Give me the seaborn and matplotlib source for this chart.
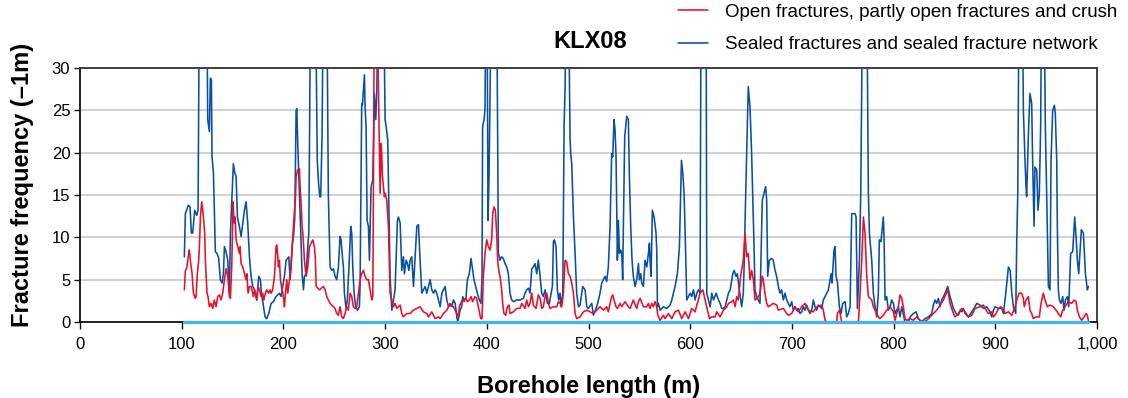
import matplotlib
matplotlib.use("Agg")
import matplotlib.pyplot as plt
import matplotlib.ticker as mticker
import seaborn as sns
import pandas as pd

# ---------------- data (borehole length m, fracture frequency 1/m) ----------------
sealed_points = [
    (102.6, 7.7), (103.6, 12.8), (106.6, 13.8), (108.2, 13.6), (109.5, 10.5), (110.8, 10.5), (112.8, 13.2),
    (114.8, 12.6), (116.1, 13.2), (117.4, 40), (121.0, 45), (124.6, 40), (125.6, 23.9), (127.2, 22.5),
    (128.2, 28.8), (129.2, 28.6), (129.8, 19.5), (131.2, 17.6), (133.1, 8.3), (134.8, 8.1), (136.4, 7.5),
    (138.0, 5.0), (139.7, 4.6), (141.0, 5.7), (142.0, 8.9), (143.6, 8.3), (145.3, 7.3), (146.9, 3.4),
    (147.9, 10.5), (150.8, 18.7), (152.2, 17.6), (153.5, 17.2), (154.8, 12.4), (156.7, 11.3), (158.4, 10.1),
    (161.7, 13.2), (163.3, 14.2), (164.9, 11.7), (166.6, 7.7), (168.2, 5.4), (169.9, 4.2), (171.5, 3.8),
    (173.8, 2.6), (175.8, 5.4), (177.4, 5.0), (178.4, 3.4), (180.4, 1.8), (182.0, 0.6), (183.6, 0.4),
    (185.6, 1.0), (187.9, 2.2), (190.2, 2.4), (192.8, 3.0), (196.1, 3.4), (197.7, 3.0), (201.0, 5.4),
    (202.7, 7.3), (205.3, 7.7), (206.6, 5.0), (208.6, 8.9), (210.2, 10.5), (211.2, 12.4), (212.5, 25.0),
    (213.2, 25.2), (214.1, 21.1), (215.8, 15.2), (217.4, 9.3), (218.4, 5.7), (219.7, 3.8), (220.7, 5.4),
    (222.3, 5.7), (224.0, 8.9), (225.0, 10.5), (225.6, 20.7), (226.8, 40), (231.5, 40), (233.3, 19.1),
    (234.5, 16.5), (235.8, 14.8), (236.7, 14.8), (238.0, 22.0), (239.3, 40), (242.6, 40), (244.2, 15.0),
    (245.9, 6.5), (247.5, 6.1), (249.2, 6.3), (250.8, 5.4), (252.4, 5.0), (254.1, 6.5), (255.7, 10.1),
    (256.7, 9.7), (258.3, 7.3), (259.0, 6.5), (260.0, 3.4), (261.6, 1.6), (262.9, 2.6), (264.6, 6.9),
    (266.2, 11.3), (267.2, 10.5), (268.2, 6.5), (269.5, 3.4), (271.1, 1.8), (272.8, 1.4), (274.7, 1.8),
    (275.4, 4.2), (277.0, 25.8), (277.7, 25.6), (279.7, 29.2), (280.3, 25.4), (281.3, 23.1), (282.3, 12.0),
    (283.6, 11.3), (284.6, 7.3), (286.2, 16.0), (287.9, 16.8), (289.5, 27.0), (290.8, 23.9), (291.8, 27.0),
    (293.4, 40), (298.4, 40), (300.0, 23.9), (301.0, 23.1), (302.6, 21.5), (303.6, 14.4), (304.9, 5.4),
    (306.6, 1.4), (308.2, 2.6), (309.8, 3.8), (312.1, 12.0), (313.1, 12.4), (314.8, 11.7), (316.4, 6.1),
    (318.0, 7.7), (319.0, 5.7), (320.7, 7.3), (322.0, 6.9), (323.3, 6.1), (324.6, 7.3), (326.2, 7.7),
    (327.9, 4.2), (329.5, 7.7), (331.2, 11.3), (332.8, 11.5), (334.4, 7.3), (336.1, 3.4), (337.7, 3.8),
    (339.4, 4.2), (341.0, 3.4), (342.6, 4.2), (344.3, 5.0), (345.9, 3.8), (347.6, 3.4), (349.2, 3.8),
    (350.8, 3.4), (352.5, 2.6), (354.1, 1.8), (355.8, 3.4), (357.4, 3.8), (359.0, 4.2), (360.7, 2.6),
    (362.3, 1.8), (364.0, 2.0), (365.6, 1.8), (367.2, 2.6), (368.9, 2.2), (370.5, 0.6), (371.5, 0.0),
    (373.8, 1.4), (375.3, 1.8), (376.3, 3.0), (377.6, 2.6), (379.5, 2.8), (380.9, 5.0), (382.8, 5.7),
    (384.5, 7.5), (386.1, 6.1), (387.4, 5.0), (389.1, 4.2), (390.7, 3.4), (392.7, 2.6), (394.3, 2.2),
    (395.3, 5.4), (395.9, 23.1), (397.3, 23.9), (398.2, 25.0), (399.2, 40), (400.2, 40), (401.2, 12.0),
    (402.2, 17.2), (403.2, 27.0), (404.5, 40), (409.7, 40), (411.4, 8.1), (413.0, 7.3), (414.6, 7.7),
    (416.3, 7.5), (417.9, 6.9), (419.6, 6.5), (421.2, 5.7), (422.8, 3.4), (424.5, 2.6), (426.1, 2.4),
    (429.4, 2.6), (432.7, 2.6), (436.0, 2.8), (437.6, 3.4), (439.2, 3.8), (440.9, 4.0), (442.5, 3.4),
    (444.2, 6.3), (445.8, 6.5), (447.4, 6.9), (449.1, 5.7), (450.7, 7.3), (452.4, 5.4), (454.0, 3.4),
    (455.6, 3.0), (457.3, 3.8), (459.6, 2.2), (461.5, 2.2), (463.2, 3.4), (464.5, 4.2), (465.5, 9.5),
    (466.5, 9.7), (468.1, 8.9), (469.4, 3.8), (470.7, 2.6), (472.0, 3.4), (473.0, 1.8), (474.7, 3.4),
    (476.0, 23.1), (477.0, 27.8), (478.0, 40), (480.2, 40), (481.9, 21.5), (482.5, 19.9), (483.5, 18.7),
    (485.2, 12.4), (486.8, 8.1), (488.4, 3.4), (490.1, 1.8), (491.7, 2.0), (494.3, 4.2), (496.6, 3.8),
    (498.3, 1.8), (499.9, 1.6), (503.2, 2.2), (504.8, 0.8), (508.1, 1.8), (509.8, 2.6), (511.3, 3.4),
    (513.0, 4.6), (514.6, 5.0), (516.3, 5.4), (517.9, 4.8), (519.5, 6.5), (521.2, 11.3), (522.8, 19.9),
    (523.8, 19.5), (525.1, 23.9), (526.1, 22.7), (527.1, 19.5), (528.4, 7.3), (529.4, 12.0), (530.4, 8.1),
    (531.7, 8.5), (532.7, 8.1), (533.6, 5.0), (534.3, 11.3), (535.6, 21.9), (537.6, 24.3), (539.2, 23.9),
    (540.2, 17.2), (541.5, 11.3), (542.8, 7.3), (544.1, 5.4), (545.8, 4.2), (547.4, 5.0), (549.1, 6.9),
    (550.0, 5.0), (551.4, 5.7), (552.3, 4.6), (554.0, 4.2), (555.6, 7.3), (557.3, 6.5), (558.9, 8.1),
    (559.9, 9.3), (560.5, 7.3), (561.5, 5.4), (562.8, 13.2), (564.5, 12.4), (566.4, 10.5), (567.1, 8.5),
    (567.8, 1.8), (568.7, 2.2), (570.4, 1.4), (573.7, 1.8), (577.0, 1.6), (580.2, 2.0), (581.9, 2.6),
    (583.5, 3.4), (585.1, 4.2), (587.4, 5.7), (589.4, 8.9), (591.4, 19.1), (592.7, 17.6), (594.0, 15.2),
    (595.3, 9.3), (596.6, 2.6), (598.3, 3.0), (599.9, 3.4), (601.5, 3.0), (603.2, 3.8), (604.8, 2.6),
    (606.5, 3.4), (608.1, 3.8), (609.7, 3.4), (610.7, 40), (615.6, 40), (616.3, 3.4), (617.9, 2.6),
    (619.6, 1.8), (621.2, 3.4), (622.9, 2.6), (625.5, 3.4), (627.8, 2.6), (629.4, 2.2), (631.1, 1.6),
    (632.7, 1.6), (634.3, 1.8), (636.0, 2.6), (637.6, 3.4), (639.3, 3.8), (641.9, 5.7), (643.2, 6.1),
    (645.0, 5.4), (646.3, 5.7), (648.3, 3.8), (650.6, 1.8), (652.2, 3.4), (653.2, 7.3), (654.2, 13.2),
    (657.1, 27.8), (658.8, 25.4), (660.4, 19.9), (661.4, 15.2), (662.7, 9.3), (663.7, 3.8), (665.3, 3.0),
    (667.0, 2.6), (668.6, 2.2), (670.9, 14.4), (672.6, 15.2), (674.2, 16.0), (675.2, 14.4), (676.2, 5.4),
    (677.8, 7.3), (680.1, 7.5), (681.7, 7.3), (683.4, 6.1), (685.0, 5.4), (686.7, 4.2), (688.3, 3.4),
    (689.9, 3.8), (691.6, 2.6), (693.2, 3.4), (694.9, 2.6), (696.5, 2.2), (698.1, 1.8), (699.8, 2.4),
    (701.4, 1.4), (703.1, 1.8), (704.7, 1.4), (706.3, 1.6), (708.0, 1.0), (709.6, 1.2), (711.3, 1.8),
    (712.9, 1.4), (714.5, 2.0), (716.2, 1.4), (717.8, 1.0), (719.5, 1.4), (721.1, 2.6), (722.7, 1.8),
    (724.4, 1.4), (726.0, 2.0), (727.7, 1.8), (729.3, 1.6), (730.9, 2.6), (732.6, 3.0), (734.2, 3.4),
    (735.9, 3.8), (738.5, 5.7), (739.5, 4.6), (741.4, 8.5), (742.4, 8.9), (743.4, 5.4), (744.7, 4.8),
    (746.7, 1.8), (748.3, 1.0), (750.0, 2.2), (752.3, 2.4), (753.9, 0.6), (755.5, 1.0), (757.2, 1.8),
    (758.8, 12.8), (762.1, 12.8), (763.1, 12.4), (764.4, 1.6), (766.4, 7.3), (767.7, 15.2), (769.6, 40),
    (773.6, 40), (775.2, 15.2), (776.2, 10.5), (778.5, 7.3), (780.1, 3.4), (781.8, 1.8), (783.4, 0.6),
    (785.0, 3.4), (786.0, 9.7), (787.6, 9.5), (789.9, 12.4), (790.6, 10.1), (791.6, 2.6), (793.2, 3.0),
    (794.8, 1.4), (796.5, 1.8), (798.1, 2.6), (799.8, 2.2), (801.4, 1.0), (803.0, 1.4), (804.7, 1.8),
    (806.3, 0.6), (808.0, 1.8), (811.2, 0.0), (814.5, 0.0), (816.2, 0.6), (817.8, 0.8), (819.4, 1.0),
    (822.1, 1.2), (824.4, 0.4), (826.0, 0.2), (827.6, 0.0), (830.9, 0.4), (834.2, 0.6), (837.5, 1.0),
    (839.1, 2.0), (840.8, 2.6), (842.4, 2.2), (844.0, 2.8), (845.7, 1.8), (847.3, 2.6), (850.6, 3.4),
    (853.2, 4.2), (855.5, 3.0), (858.8, 1.6), (861.4, 1.0), (863.7, 0.8), (865.4, 1.4), (867.0, 1.2),
    (868.6, 1.6), (870.3, 1.0), (873.6, 0.6), (876.8, 1.2), (880.1, 1.8), (881.8, 2.2), (885.0, 2.0),
    (888.3, 1.6), (891.6, 1.8), (894.9, 1.2), (896.5, 0.6), (898.2, 1.4), (899.8, 1.8), (903.1, 1.6),
    (906.4, 1.6), (908.0, 1.0), (910.3, 3.4), (912.9, 6.5), (914.6, 6.1), (916.2, 3.4), (917.8, 1.8),
    (920.1, 1.0), (921.1, 9.7), (922.1, 15.2), (923.4, 40), (926.6, 40), (927.6, 25.0), (929.2, 19.1),
    (930.2, 16.0), (930.8, 14.8), (931.8, 19.1), (932.8, 23.1), (934.1, 27.0), (935.8, 25.8), (936.7, 19.1),
    (938.1, 11.3), (939.0, 18.3), (940.7, 18.0), (942.0, 13.2), (943.3, 15.2), (944.6, 23.1), (945.6, 40),
    (947.9, 40), (949.2, 23.1), (950.5, 15.2), (952.2, 4.2), (953.8, 3.8), (954.8, 19.1), (956.4, 25.0),
    (958.1, 25.6), (959.0, 24.6), (960.4, 19.1), (961.0, 11.3), (962.0, 3.8), (963.0, 2.6), (964.6, 2.2),
    (966.3, 3.0), (967.6, 1.4), (968.9, 2.6), (970.9, 3.0), (972.2, 1.8), (974.1, 8.1), (976.1, 8.3),
    (978.1, 12.4), (979.4, 10.1), (980.7, 7.3), (982.0, 5.7), (984.6, 10.9), (986.6, 10.5), (988.6, 5.7),
    (990.5, 3.8), (991.5, 4.2),
]

open_points = [
    (102.6, 3.8), (103.6, 6.1), (104.9, 6.3), (106.9, 8.1), (107.5, 8.5), (108.9, 6.9), (110.2, 5.7),
    (111.5, 3.4), (113.4, 2.8), (114.1, 3.0), (115.4, 5.7), (116.7, 7.3), (117.4, 8.9), (118.4, 12.4),
    (119.7, 14.2), (120.7, 13.2), (121.6, 12.0), (122.6, 10.5), (123.3, 7.3), (123.9, 5.7), (124.9, 3.4),
    (125.9, 3.0), (127.2, 1.8), (128.9, 2.2), (130.5, 1.6), (132.1, 2.6), (133.8, 1.8), (135.4, 3.0),
    (137.1, 3.2), (138.7, 2.6), (140.3, 3.4), (142.0, 5.0), (143.6, 6.3), (145.3, 5.4), (146.9, 3.0),
    (147.9, 2.8), (149.2, 6.5), (150.5, 14.2), (151.5, 11.7), (152.5, 12.4), (153.5, 9.7), (155.1, 8.9),
    (156.7, 8.1), (157.4, 8.9), (158.4, 6.9), (160.0, 6.5), (161.7, 5.7), (163.3, 5.0), (164.0, 5.7),
    (165.3, 3.4), (166.6, 4.2), (168.2, 4.2), (169.9, 3.4), (170.5, 3.0), (171.8, 3.8), (173.1, 3.0),
    (173.8, 2.6), (175.1, 4.2), (176.4, 3.8), (178.1, 3.0), (179.7, 3.4), (180.7, 2.6), (182.3, 3.4),
    (183.6, 3.8), (185.3, 3.4), (186.9, 3.8), (187.9, 3.4), (189.5, 3.8), (191.2, 5.4), (192.8, 8.9),
    (193.5, 9.1), (194.5, 7.7), (195.1, 6.5), (196.1, 7.3), (197.1, 5.0), (198.1, 4.2), (199.4, 3.4),
    (200.4, 2.6), (201.0, 1.8), (202.0, 3.4), (203.3, 5.0), (204.3, 3.4), (207.6, 6.5), (208.6, 8.9),
    (210.9, 13.2), (211.8, 14.4), (212.5, 17.2), (214.1, 18.0), (215.8, 18.1), (216.4, 16.0), (217.4, 14.0),
    (218.4, 11.3), (219.1, 10.5), (220.7, 7.3), (222.3, 5.4), (224.0, 6.5), (225.6, 8.9), (227.3, 9.3),
    (228.9, 9.7), (230.5, 8.9), (231.5, 7.3), (232.2, 4.2), (235.5, 3.8), (239.3, 4.2), (241.0, 3.8),
    (242.6, 3.0), (244.2, 2.6), (245.9, 2.2), (249.2, 1.8), (250.8, 1.6), (252.4, 1.0), (254.1, 0.8),
    (255.7, 1.8), (257.4, 0.6), (259.0, 0.4), (260.6, 1.0), (262.3, 1.8), (263.9, 1.4), (265.6, 3.4),
    (267.2, 3.0), (268.8, 1.8), (270.5, 1.6), (272.1, 1.8), (273.8, 3.4), (275.4, 5.0), (277.0, 5.7),
    (278.7, 6.1), (280.3, 5.4), (282.0, 5.0), (283.6, 5.0), (285.2, 3.8), (286.9, 2.6), (287.9, 3.0),
    (288.5, 15.2), (289.5, 40), (291.8, 40), (295.1, 15.2), (296.1, 21.1), (296.7, 19.9), (297.4, 17.2),
    (299.3, 14.8), (300.0, 15.2), (301.6, 14.4), (303.3, 11.3), (304.9, 3.4), (306.6, 2.6), (308.2, 1.8),
    (309.8, 2.2), (311.5, 1.6), (313.1, 1.8), (314.8, 2.0), (316.4, 1.0), (318.0, 0.6), (321.3, 1.0),
    (324.6, 1.0), (327.9, 1.4), (331.2, 1.6), (334.4, 1.8), (337.7, 1.2), (341.0, 1.0), (342.6, 0.6),
    (345.9, 1.2), (349.2, 0.4), (352.5, 0.6), (354.1, 0.4), (357.4, 1.0), (360.7, 1.4), (364.0, 2.2),
    (367.2, 1.8), (370.5, 1.0), (372.2, 0.6), (373.0, 1.8), (374.3, 2.2), (376.3, 2.6), (377.6, 2.4),
    (379.5, 2.8), (380.9, 2.4), (382.8, 2.6), (384.5, 3.0), (386.1, 2.4), (388.4, 3.0), (390.0, 2.8),
    (391.7, 1.8), (394.0, 0.4), (395.3, 0.4), (396.6, 5.4), (398.2, 8.1), (399.9, 9.7), (401.5, 8.9),
    (403.2, 8.5), (404.8, 9.7), (405.8, 12.8), (407.1, 13.6), (408.4, 13.2), (409.7, 10.5), (410.7, 7.3),
    (411.7, 6.1), (413.0, 5.4), (414.6, 3.8), (415.6, 2.2), (416.9, 1.0), (418.6, 0.8), (420.2, 1.8),
    (421.9, 2.0), (422.8, 1.0), (426.1, 1.2), (429.4, 1.6), (432.7, 1.6), (434.3, 2.2), (437.6, 1.6),
    (439.2, 2.6), (440.9, 1.8), (442.5, 2.2), (444.2, 3.4), (445.8, 2.0), (448.4, 1.6), (450.7, 3.2),
    (452.4, 2.8), (454.0, 1.6), (455.6, 1.8), (457.3, 3.0), (459.0, 3.4), (460.6, 2.2), (462.2, 1.6),
    (465.5, 1.8), (468.8, 1.8), (470.4, 2.4), (472.0, 2.2), (473.7, 1.8), (475.3, 3.4), (477.0, 7.3),
    (478.6, 7.1), (480.2, 5.7), (481.9, 5.4), (483.5, 4.6), (485.2, 3.4), (486.8, 1.0), (488.4, 0.4),
    (491.7, 0.6), (495.0, 1.2), (498.3, 1.4), (501.6, 1.2), (504.8, 1.0), (508.1, 1.4), (511.4, 1.8),
    (514.6, 1.4), (517.9, 1.8), (519.5, 1.2), (521.2, 2.2), (522.8, 3.0), (523.8, 3.2), (525.1, 2.6),
    (527.1, 1.8), (528.4, 1.6), (531.0, 2.2), (532.7, 1.8), (535.9, 2.4), (539.2, 1.8), (540.9, 1.6),
    (544.1, 2.6), (547.4, 1.6), (549.1, 2.4), (550.7, 2.8), (554.0, 1.8), (557.3, 1.8), (558.9, 2.2),
    (560.5, 1.6), (562.2, 2.2), (563.8, 1.8), (565.5, 2.4), (567.1, 1.8), (568.1, 0.8), (570.4, 0.2),
    (573.7, 0.8), (575.3, 0.4), (578.6, 1.0), (581.9, 0.4), (585.1, 1.2), (588.4, 1.4), (591.7, 0.4),
    (595.0, 1.2), (598.3, 0.4), (601.5, 1.6), (604.8, 1.2), (606.5, 2.0), (608.1, 2.6), (609.7, 3.4),
    (612.4, 3.8), (614.7, 2.6), (617.0, 1.4), (618.9, 0.4), (621.2, 0.6), (624.5, 0.6), (626.1, 1.2),
    (629.4, 0.6), (632.7, 1.4), (636.0, 1.8), (637.6, 2.2), (640.9, 2.4), (642.5, 2.6), (644.2, 1.8),
    (645.8, 3.0), (647.3, 2.6), (649.6, 5.4), (652.2, 7.3), (653.9, 10.5), (655.5, 7.7), (657.1, 8.1),
    (658.8, 5.0), (660.4, 6.1), (662.1, 5.0), (663.7, 2.6), (666.0, 2.8), (668.6, 3.4), (670.9, 5.4),
    (671.9, 5.0), (673.5, 3.4), (675.2, 2.2), (676.8, 1.8), (681.7, 2.2), (685.0, 2.0), (686.7, 1.4),
    (691.6, 1.6), (694.9, 1.0), (696.5, 0.8), (699.8, 1.0), (703.1, 1.8), (706.3, 1.2), (709.6, 1.8),
    (712.9, 2.2), (716.2, 1.4), (721.1, 1.2), (724.4, 1.8), (729.3, 2.0), (730.9, 1.4), (732.6, 0.2),
    (734.2, 0.0), (744.1, 0.0), (744.7, 1.0), (746.7, 1.4), (749.0, 0.0), (765.4, 0.0), (767.0, 3.4),
    (768.7, 7.3), (770.3, 12.4), (771.9, 10.5), (773.6, 5.4), (775.2, 3.0), (776.9, 2.8), (778.5, 2.6),
    (780.1, 1.8), (781.8, 1.4), (785.1, 0.6), (786.6, 0.4), (789.9, 0.8), (793.2, 1.4), (796.5, 1.8),
    (799.8, 1.2), (801.4, 0.2), (803.0, 1.0), (804.7, 1.8), (806.3, 3.2), (808.0, 2.8), (809.6, 1.8),
    (811.2, 0.4), (812.9, 0.2), (816.2, 0.4), (819.4, 0.2), (822.7, 0.6), (826.0, 0.2), (829.3, 0.0),
    (832.6, 0.2), (835.8, 0.6), (839.1, 1.0), (842.4, 1.4), (845.7, 2.0), (849.0, 2.6), (853.2, 3.8),
    (855.5, 2.2), (858.8, 1.0), (860.4, 0.6), (863.7, 1.0), (867.0, 1.6), (870.3, 1.2), (873.6, 0.6),
    (876.8, 0.8), (880.1, 1.6), (885.0, 1.8), (888.3, 2.0), (890.0, 1.6), (893.2, 1.0), (896.5, 1.2),
    (898.2, 0.6), (900.8, 1.0), (903.1, 1.6), (905.4, 1.8), (907.3, 1.6), (909.6, 1.0), (912.9, 1.2),
    (916.2, 0.8), (919.5, 1.8), (921.1, 2.6), (923.4, 3.4), (925.9, 3.4), (927.6, 2.8), (928.5, 1.8),
    (930.2, 2.6), (932.5, 3.0), (934.1, 1.4), (935.8, 1.0), (937.4, 0.4), (940.0, 0.6), (943.3, 0.6),
    (945.0, 2.2), (947.2, 3.4), (948.9, 2.6), (951.2, 1.8), (953.8, 2.0), (957.1, 1.8), (959.7, 1.4),
    (962.0, 1.0), (964.3, 0.6), (966.3, 1.4), (968.6, 1.8), (971.8, 2.4), (975.1, 2.2), (977.4, 2.6),
    (979.4, 2.4), (980.7, 1.4), (982.7, 0.6), (984.9, 0.2), (987.3, 0.6), (989.2, 1.0), (990.5, 0.8),
    (991.5, 0.2),
]

# zero line over the logged interval
baseline_depth = [102.3, 991.0]
baseline_value = [0.0, 0.0]

series_labels = ["Open fractures, partly open fractures and crush",
                 "Sealed fractures and sealed fracture network"]
x_ticks = list(range(0, 1001, 100))
y_ticks = list(range(0, 31, 5))
title = "KLX08"
x_label = "Borehole length (m)"
y_label = "Fracture frequency (\u20131m)"

# ---------------- style ----------------
sns.set_style("white")
plt.rcParams["font.family"] = ["Liberation Sans", "DejaVu Sans"]
plt.rcParams["text.color"] = "black"
plt.rcParams["axes.labelcolor"] = "black"
plt.rcParams["xtick.color"] = "black"
plt.rcParams["ytick.color"] = "black"

RED = "#e8102a"
BLUE = "#0a4fa3"
CYAN = "#4db3e6"

fig = plt.figure(figsize=(11.28, 3.98), dpi=100)
ax = fig.add_axes([80 / 1128, 1 - 322 / 398, 1017 / 1128, 254 / 398])

open_df = pd.DataFrame(open_points, columns=["depth", "freq"])
sealed_df = pd.DataFrame(sealed_points, columns=["depth", "freq"])
base_df = pd.DataFrame({"depth": baseline_depth, "freq": baseline_value})

sns.lineplot(data=sealed_df, x="depth", y="freq", ax=ax, color=BLUE, linewidth=1.15,
             estimator=None, sort=False, label=series_labels[1], zorder=3)
sns.lineplot(data=open_df, x="depth", y="freq", ax=ax, color=RED, linewidth=1.15,
             estimator=None, sort=False, label=series_labels[0], zorder=4)
sns.lineplot(data=base_df, x="depth", y="freq", ax=ax, color=CYAN, linewidth=2.4,
             estimator=None, sort=False, zorder=6)
ax.lines[-1].set_clip_on(False)

ax.set_xlim(0, 1000)
ax.set_ylim(0, 30)
ax.set_xticks(x_ticks)
ax.set_yticks(y_ticks)
ax.xaxis.set_major_formatter(mticker.FuncFormatter(lambda v, p: f"{int(v):,}"))

ax.yaxis.grid(True, color="#c8c8c8", linewidth=1.2)
ax.xaxis.grid(False)
ax.set_axisbelow(True)

for side in ["left", "bottom"]:
    ax.spines[side].set_color("#111111")
    ax.spines[side].set_linewidth(1.3)
for side in ["top", "right"]:
    ax.spines[side].set_color("#333333")
    ax.spines[side].set_linewidth(1.3)

ax.tick_params(axis="x", direction="out", length=5, width=1.0, color="#111111",
               labelsize=12, labelcolor="black", pad=6, bottom=True)
ax.tick_params(axis="y", direction="out", length=4, width=1.0, color="#111111",
               labelsize=12, labelcolor="black", pad=3, left=True)

ax.set_xlabel(x_label, fontsize=17, fontweight="bold", va="center", color="black")
ax.xaxis.set_label_coords(0.5, -0.252)
ax.set_ylabel(y_label, fontsize=17, fontweight="bold", va="center", color="black")
ax.yaxis.set_label_coords(-0.057, 0.54)

fig.text(590 / 1128, 1 - 42 / 398, title, fontsize=17, fontweight="bold",
         ha="center", va="center", color="black")

handles, labels = ax.get_legend_handles_labels()
order = [labels.index(series_labels[0]), labels.index(series_labels[1])]
if ax.get_legend() is not None:
    ax.get_legend().remove()
leg = fig.legend([handles[i] for i in order], [labels[i] for i in order],
                 loc="upper right", bbox_to_anchor=(0.997, 1.01), frameon=False,
                 fontsize=13.5, handlelength=1.6, handletextpad=0.9,
                 labelspacing=0.82, borderaxespad=0.0, labelcolor="black")

fig.savefig("out.png", dpi=100)
